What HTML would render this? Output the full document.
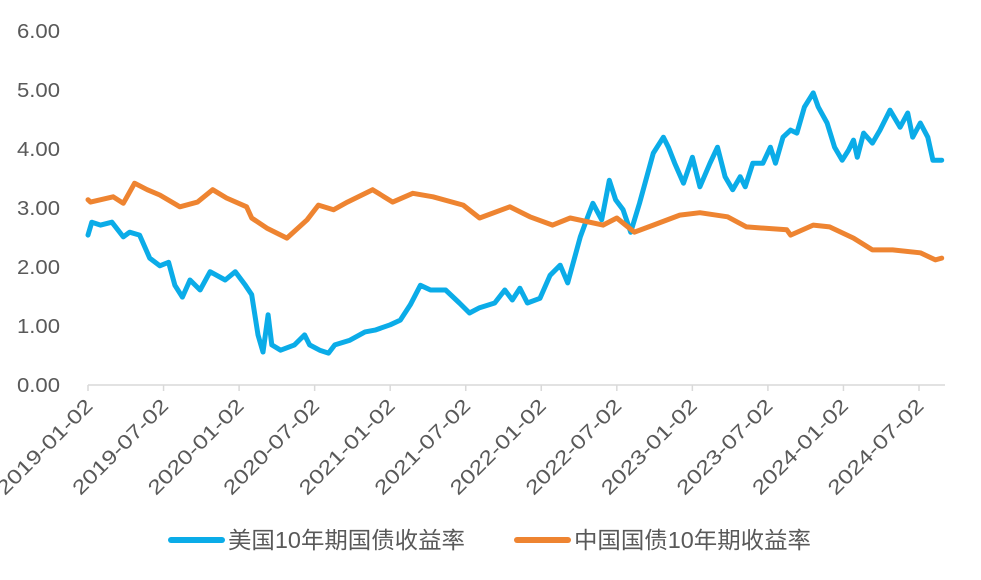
<!DOCTYPE html>
<html><head><meta charset="utf-8"><style>
body{margin:0;background:#fff;}
svg text{font-family:"Liberation Sans","Noto Sans CJK SC",sans-serif;fill:#595959;}
</style></head><body>
<svg id="chart" width="981" height="575" xmlns="http://www.w3.org/2000/svg">
<g id="yaxis"></g>
<g id="xaxis"></g>
<g id="series"></g>
<g>
  <g>
    <line x1="171" y1="540" x2="222" y2="540" stroke="#0BACE8" stroke-width="6" stroke-linecap="round"/>
    <text x="228" y="548" font-size="23" textLength="237" lengthAdjust="spacingAndGlyphs">美国10年期国债收益率</text>
  </g>
  <g>
    <line x1="517" y1="540" x2="568" y2="540" stroke="#EE8431" stroke-width="6" stroke-linecap="round"/>
    <text x="574" y="548" font-size="23" textLength="237" lengthAdjust="spacingAndGlyphs">中国国债10年期收益率</text>
  </g>
</g>
</svg>
<script>
// months since 2019-01-02
const usMonths=[0,0.3,1.0,1.9,2.8,3.3,4.1,4.9,5.7,6.4,6.9,7.5,8.1,8.9,9.7,10.9,11.7,12.5,13.0,13.5,13.9,14.3,14.6,15.3,16.4,17.2,17.6,18.4,19.1,19.6,20.8,22.0,22.8,24.0,24.8,25.6,26.4,27.2,28.4,29.5,30.3,31.1,32.3,33.1,33.7,34.3,34.9,35.9,36.7,37.5,38.1,39.1,39.6,40.1,40.8,41.4,41.9,42.5,43.1,43.8,44.9,45.7,46.1,46.6,47.3,48.0,48.6,49.4,50.0,50.6,51.2,51.8,52.2,52.8,53.6,54.2,54.6,55.2,55.8,56.3,56.9,57.6,58.0,58.7,59.3,59.9,60.4,60.8,61.1,61.6,62.3,62.9,63.7,64.5,65.1,65.5,66.1,66.7,67.1,67.8];
const usValues=[2.54,2.76,2.71,2.76,2.51,2.59,2.54,2.15,2.02,2.08,1.69,1.49,1.78,1.61,1.92,1.78,1.92,1.69,1.53,0.85,0.56,1.19,0.68,0.59,0.68,0.85,0.68,0.59,0.54,0.68,0.76,0.90,0.93,1.02,1.10,1.36,1.69,1.61,1.61,1.39,1.22,1.31,1.39,1.61,1.44,1.64,1.39,1.47,1.86,2.03,1.73,2.51,2.80,3.08,2.80,3.47,3.14,2.97,2.59,3.08,3.93,4.20,4.03,3.76,3.42,3.86,3.36,3.76,4.03,3.53,3.31,3.53,3.36,3.76,3.76,4.03,3.76,4.20,4.32,4.27,4.71,4.95,4.71,4.44,4.03,3.81,3.98,4.15,3.86,4.27,4.10,4.32,4.66,4.37,4.61,4.20,4.44,4.20,3.81,3.81];
const cnMonths=[0,0.2,2.0,2.8,3.7,4.7,5.7,7.3,8.7,9.9,11.0,12.6,13.0,14.2,15.8,17.4,18.3,19.5,20.6,22.6,24.2,25.8,27.4,29.8,31.1,33.5,35.1,36.9,38.3,40.9,42.0,43.4,44.9,47.0,48.6,50.8,52.3,55.5,55.8,57.6,58.9,60.8,62.3,63.9,66.1,67.3,67.8];
const cnValues=[3.14,3.10,3.19,3.08,3.42,3.31,3.22,3.02,3.10,3.31,3.17,3.02,2.83,2.66,2.49,2.80,3.05,2.97,3.10,3.31,3.10,3.25,3.19,3.05,2.83,3.02,2.85,2.71,2.83,2.71,2.83,2.59,2.71,2.88,2.92,2.85,2.68,2.63,2.54,2.71,2.68,2.49,2.29,2.29,2.24,2.12,2.15];
const yTicks=[0,1,2,3,4,5,6];
const xTickLabels=["2019-01-02","2019-07-02","2020-01-02","2020-07-02","2021-01-02","2021-07-02","2022-01-02","2022-07-02","2023-01-02","2023-07-02","2024-01-02","2024-07-02"];

const NS="http://www.w3.org/2000/svg";
const X0=88, PXM=831/66, Y0=385, PXU=59;
const xs=m=>X0+m*PXM, ys=v=>Y0-v*PXU;
function mk(t,a,p){const e=document.createElementNS(NS,t);for(const k in a)e.setAttribute(k,a[k]);p.appendChild(e);return e;}
const ya=document.getElementById('yaxis'), xa=document.getElementById('xaxis'), sg=document.getElementById('series');
yTicks.forEach(v=>{
  const t=mk('text',{x:60,y:ys(v)+7,'font-size':20,'text-anchor':'end',textLength:43,lengthAdjust:'spacingAndGlyphs'},ya);
  
  
  t.textContent=v.toFixed(2);
});
const ax=mk('line',{x1:X0,y1:Y0,x2:945,y2:Y0,stroke:'#D9D9D9','stroke-width':1.5},xa);


xTickLabels.forEach((l,i)=>{
  const x=xs(i*6);
  const tk=mk('line',{x1:x,y1:Y0,x2:x,y2:Y0+6,stroke:'#D9D9D9','stroke-width':1.5},xa);
  
  
  const t=mk('text',{x:x+6,y:Y0+22,'font-size':20,'text-anchor':'end',textLength:126,lengthAdjust:'spacingAndGlyphs',transform:`rotate(-45 ${x+6} ${Y0+22})`},xa);
  
  
  t.textContent=l;
});
function line(ms,vs,col,name){
  const d=ms.map((m,i)=>(i?'L':'M')+xs(m).toFixed(1)+','+ys(vs[i]).toFixed(1)).join('');
  const p=mk('path',{d:d,fill:'none',stroke:col,'stroke-width':5,'stroke-linejoin':'round','stroke-linecap':'round'},sg);
  
  
}
line(usMonths,usValues,'#0BACE8','us-10y-line');
line(cnMonths,cnValues,'#EE8431','cn-10y-line');
</script>
</body></html>
